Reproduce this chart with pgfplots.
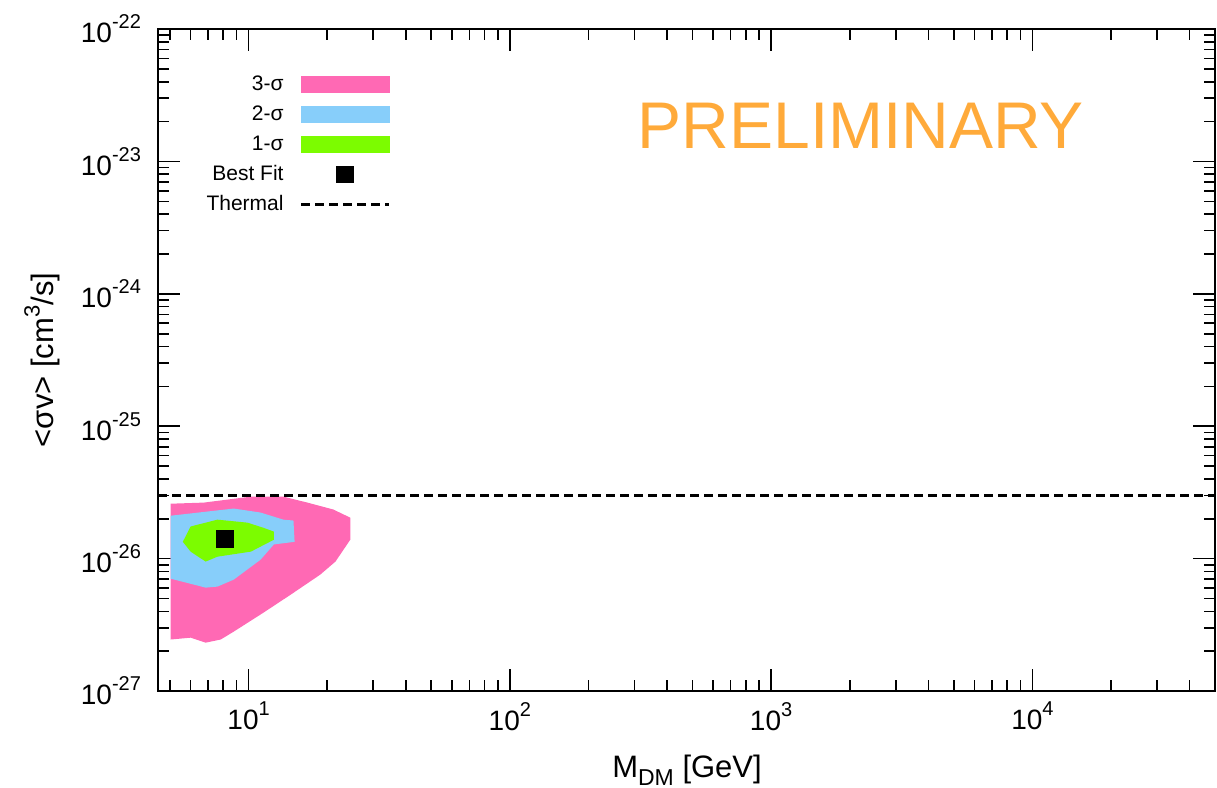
\documentclass[border=0pt]{standalone}
\usepackage{pgfplots}
\pgfplotsset{compat=1.18}
\usepackage{fontspec}
\setmainfont{Liberation Sans}
\definecolor{cpink}{RGB}{255,105,180}
\definecolor{cblue}{RGB}{135,206,250}
\definecolor{cgreen}{RGB}{124,252,0}
\definecolor{corange}{RGB}{255,170,58}
\newcommand{\tl}[1]{10\raisebox{0.5em}{\fontsize{10}{10}\selectfont #1}}
\begin{document}
\begin{tikzpicture}
\begin{axis}[
  at={(0,0)}, anchor=south west, scale only axis,
  width=528.5pt, height=331pt,
  xmode=log, ymode=log,
  xmin=4.5, xmax=5e4, ymin=1e-27, ymax=1e-22,
  xtick={10,100,1000,10000},
  xticklabels={\tl{1},\tl{2},\tl{3},\tl{4}},
  minor xtick={5,6,7,8,9,20,30,40,50,60,70,80,90,200,300,400,500,600,700,800,900,2000,3000,4000,5000,6000,7000,8000,9000,20000,30000,40000},
  ytick={1e-27,1e-26,1e-25,1e-24,1e-23,1e-22},
  yticklabels={\tl{-27},\tl{-26},\tl{-25},\tl{-24},\tl{-23},\tl{-22}},
  minor ytick={2e-27,3e-27,4e-27,5e-27,6e-27,7e-27,8e-27,9e-27,
               2e-26,3e-26,4e-26,5e-26,6e-26,7e-26,8e-26,9e-26,
               2e-25,3e-25,4e-25,5e-25,6e-25,7e-25,8e-25,9e-25,
               2e-24,3e-24,4e-24,5e-24,6e-24,7e-24,8e-24,9e-24,
               2e-23,3e-23,4e-23,5e-23,6e-23,7e-23,8e-23,9e-23},
  tick label style={font=\fontsize{14}{15}\selectfont},
  xticklabel style={yshift=-2pt},
  yticklabel style={xshift=-5pt},
  tick align=inside,
  major tick length=11pt, minor tick length=5.5pt,
  every tick/.style={black, line width=0.8pt},
  axis line style={line width=1pt},
  xlabel={M\raisebox{-0.25em}{\fontsize{11.5}{12}\selectfont DM} [GeV]},
  ylabel={<σv> [cm\raisebox{0.45em}{\fontsize{11}{12}\selectfont 3}/s]},
  label style={font=\fontsize{15.5}{16}\selectfont},
  xlabel style={at={(axis description cs:0.5005,-0.131)}, anchor=base},
  ylabel style={at={(axis description cs:-0.1097,0.5)}, anchor=center},
  legend style={draw=none, fill=none, at={(0.2204,0.9366)}, anchor=north east,
    inner xsep=0pt, inner ysep=0pt, row sep=2pt, column sep=6pt,
    font=\fontsize{10.5}{12}\selectfont,
    nodes={inner sep=2pt, text height=7.5pt, text depth=1.5pt}},
  legend plot pos=right,
  legend cell align=right,
]
% 3-sigma
\addplot[fill=cpink, draw=none, forget plot] coordinates {
(5.03,2.60e-26) (6.73,2.65e-26) (10.2,2.94e-26) (13.6,2.94e-26) (16.8,2.65e-26)
(21.1,2.35e-26) (24.5,2.04e-26) (24.5,1.39e-26) (21.5,9.5e-27) (18.8,7.57e-27)
(14.5,5.35e-27) (11.4,3.91e-27) (8.77,2.81e-27) (7.82,2.45e-27) (6.85,2.32e-27)
(6.0,2.53e-27) (5.03,2.45e-27)} -- cycle;
% 2-sigma
\addplot[fill=cblue, draw=none, forget plot] coordinates {
(5.03,2.11e-26) (8.77,2.39e-26) (11.1,2.23e-26) (13.6,1.97e-26) (14.85,1.94e-26)
(15.0,1.34e-26) (12.5,1.28e-26) (11.1,9.8e-27) (8.77,6.94e-27) (7.6,6.15e-27)
(6.85,6.04e-27) (5.03,7.06e-27)} -- cycle;
% 1-sigma
\addplot[fill=cgreen, draw=none, forget plot] coordinates {
(5.6,1.34e-26) (6.0,1.75e-26) (7.6,1.97e-26) (9.9,1.87e-26) (11.4,1.71e-26)
(12.5,1.60e-26) (12.5,1.39e-26) (10.2,1.13e-26) (7.6,1.035e-26) (6.85,9.5e-27)
(6.0,1.13e-26)} -- cycle;
% best fit
\addplot[only marks, mark=square*, mark size=4.2pt, black, forget plot] coordinates {(8.12,1.41e-26)};
% thermal
\addplot[black, line width=1.5pt, dash pattern=on 4.5pt off 2.5pt, forget plot] coordinates {(4.5,3e-26) (5e4,3e-26)};

\addlegendimage{legend image code/.code={\path (0pt,0pt) (44pt,0pt); \fill[cpink] (0pt,-4pt) rectangle (44pt,4pt);}}
\addlegendentry{3-σ}
\addlegendimage{legend image code/.code={\path (0pt,0pt) (44pt,0pt); \fill[cblue] (0pt,-4pt) rectangle (44pt,4pt);}}
\addlegendentry{2-σ}
\addlegendimage{legend image code/.code={\path (0pt,0pt) (44pt,0pt); \fill[cgreen] (0pt,-4pt) rectangle (44pt,4pt);}}
\addlegendentry{1-σ}
\addlegendimage{legend image code/.code={\path (0pt,0pt) (44pt,0pt); \fill[black] (17.8pt,-4.2pt) rectangle (26.2pt,4.2pt);}}
\addlegendentry{Best Fit}
\addlegendimage{legend image code/.code={\path (0pt,0pt) (44pt,0pt); \draw[black, line width=1.5pt, dash pattern=on 4.5pt off 2.5pt] (0pt,0pt) -- (44pt,0pt);}}
\addlegendentry{Thermal}

\node[text=corange, font=\fontsize{33}{36}\selectfont, anchor=center] at (rel axis cs:0.665,0.8535) {PRELIMINARY};
\end{axis}
\pgfresetboundingbox
\path (-79pt,-48.5pt) rectangle (529.5pt,345.5pt);
\end{tikzpicture}
\end{document}
